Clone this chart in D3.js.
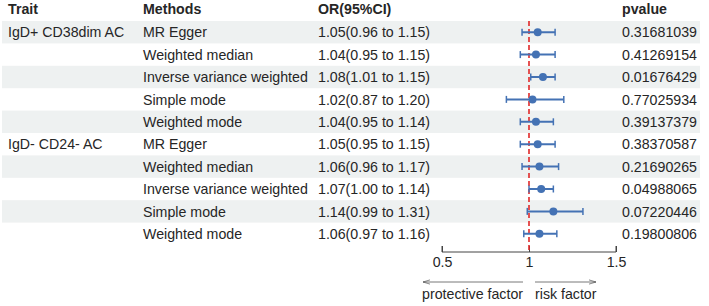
<html>
<head>
<meta charset="utf-8">
<style>
  body { margin: 0; background: #fff; }
  text { font-family: "Liberation Sans", Arial, sans-serif; }
</style>
</head>
<body>
<script src="https://cdn.jsdelivr.net/npm/d3@7"></script>
<script>
  var width = 709;
  var height = 306;

  // data
  var traits = ["IgD+ CD38dim AC", "", "", "", "", "IgD- CD24- AC", "", "", "", ""];
  var methods = ["MR Egger", "Weighted median", "Inverse variance weighted", "Simple mode", "Weighted mode",
                 "MR Egger", "Weighted median", "Inverse variance weighted", "Simple mode", "Weighted mode"];
  var orValues = [1.05, 1.04, 1.08, 1.02, 1.04, 1.05, 1.06, 1.07, 1.14, 1.06];
  var lower = [0.96, 0.95, 1.01, 0.87, 0.95, 0.95, 0.96, 1.00, 0.99, 0.97];
  var upper = [1.15, 1.15, 1.15, 1.20, 1.14, 1.15, 1.17, 1.14, 1.31, 1.16];
  var pvalues = ["0.31681039", "0.41269154", "0.01676429", "0.77025934", "0.39137379",
                 "0.38370587", "0.21690265", "0.04988065", "0.07220446", "0.19800806"];
  var tickValues = [0.5, 1, 1.5];

  var fs = "14.2px";
  var textCol = "#262626";

  var svg = d3.select("body").append("svg")
    .attr("width", width)
    .attr("height", height);

  var x = d3.scaleLinear().domain([0.5, 1.5]).range([442, 616]);
  var y = d3.scaleBand().domain(d3.range(methods.length)).range([21, 245]);

  var rows = d3.range(methods.length);

  // shaded bands
  svg.selectAll("rect.band")
    .data(rows.filter(function(i){ return i % 2 == 0; }))
    .enter().append("rect")
    .attr("x", 2)
    .attr("width", 698)
    .attr("y", function(i){ return y(i); })
    .attr("height", y.bandwidth())
    .attr("fill", "#eef1f1");

  // header
  var header = [["Trait", 8], ["Methods", 143], ["OR(95%CI)", 318], ["pvalue", 622]];
  svg.selectAll("text.head")
    .data(header)
    .enter().append("text")
    .attr("x", function(d){ return d[1]; })
    .attr("y", 14)
    .attr("font-size", fs)
    .attr("font-weight", "bold")
    .attr("fill", textCol)
    .text(function(d){ return d[0]; });

  function col(xpos, fn) {
    svg.append("g").selectAll("text")
      .data(rows)
      .enter().append("text")
      .attr("x", xpos)
      .attr("y", function(i){ return y(i) + y.bandwidth() / 2; })
      .attr("dy", "0.36em")
      .attr("font-size", fs)
      .attr("fill", textCol)
      .text(fn);
  }
  col(8, function(i){ return traits[i]; });
  col(143, function(i){ return methods[i]; });
  col(318, function(i){ return orValues[i].toFixed(2) + "(" + lower[i].toFixed(2) + " to " + upper[i].toFixed(2) + ")"; });
  col(622, function(i){ return pvalues[i]; });

  // error bars
  var blue = "#4472b4";
  var g = svg.append("g");
  g.selectAll("line.ci")
    .data(rows).enter().append("line")
    .attr("x1", function(i){ return x(lower[i]); })
    .attr("x2", function(i){ return x(upper[i]); })
    .attr("y1", function(i){ return y(i) + y.bandwidth() / 2; })
    .attr("y2", function(i){ return y(i) + y.bandwidth() / 2; })
    .attr("stroke", blue).attr("stroke-width", 2);
  [lower, upper].forEach(function(arr){
    g.selectAll(null)
      .data(rows).enter().append("line")
      .attr("x1", function(i){ return x(arr[i]); })
      .attr("x2", function(i){ return x(arr[i]); })
      .attr("y1", function(i){ return y(i) + y.bandwidth() / 2 - 3.5; })
      .attr("y2", function(i){ return y(i) + y.bandwidth() / 2 + 3.5; })
      .attr("stroke", blue).attr("stroke-width", 1.5);
  });

  // axis
  var axis = d3.axisBottom(x).tickValues(tickValues).tickSize(-6).tickFormat(d3.format("")).tickPadding(14);
  var ax = svg.append("g")
    .attr("transform", "translate(0,252)")
    .call(axis);
  ax.select(".domain").attr("d", "M" + x(0.5) + ",-6V0H" + x(1.5) + "V-6").attr("stroke", "#444");
  ax.selectAll(".tick line").attr("stroke", "#444");
  ax.selectAll(".tick text")
    .attr("y", 5).attr("dy", "0.71em")
    .attr("font-size", fs)
    .attr("fill", textCol)
    .style("font-family", "Liberation Sans, Arial, sans-serif");

  // reference line
  svg.append("line")
    .attr("x1", x(1)).attr("x2", x(1))
    .attr("y1", 21).attr("y2", 252)
    .attr("stroke", "#e02828")
    .attr("stroke-width", 1.6)
    .attr("stroke-dasharray", "5,3");

  g.raise();
  g.selectAll("circle")
    .data(rows).enter().append("circle")
    .attr("cx", function(i){ return x(orValues[i]); })
    .attr("cy", function(i){ return y(i) + y.bandwidth() / 2; })
    .attr("r", 4)
    .attr("fill", blue);

  // arrows
  var defs = svg.append("defs");
  defs.append("marker").attr("id", "arr")
    .attr("viewBox", "0 0 10 10").attr("refX", 10).attr("refY", 5)
    .attr("markerWidth", 7).attr("markerHeight", 7).attr("orient", "auto")
    .attr("markerUnits", "userSpaceOnUse")
    .append("path").attr("d", "M0,2L10,5L0,8").attr("fill", "none").attr("stroke", "#555").attr("stroke-width", 1);
  svg.append("line").attr("x1", 523).attr("x2", 423).attr("y1", 282).attr("y2", 282)
    .attr("stroke", "#555").attr("stroke-width", 0.8).attr("marker-end", "url(#arr)");
  svg.append("line").attr("x1", 535).attr("x2", 596).attr("y1", 282).attr("y2", 282)
    .attr("stroke", "#555").attr("stroke-width", 0.8).attr("marker-end", "url(#arr)");
  svg.append("text").attr("x", 523).attr("y", 299).attr("text-anchor", "end")
    .attr("font-size", fs).attr("fill", textCol).text("protective factor");
  svg.append("text").attr("x", 535).attr("y", 299)
    .attr("font-size", fs).attr("fill", textCol).text("risk factor");
</script>
</body>
</html>
